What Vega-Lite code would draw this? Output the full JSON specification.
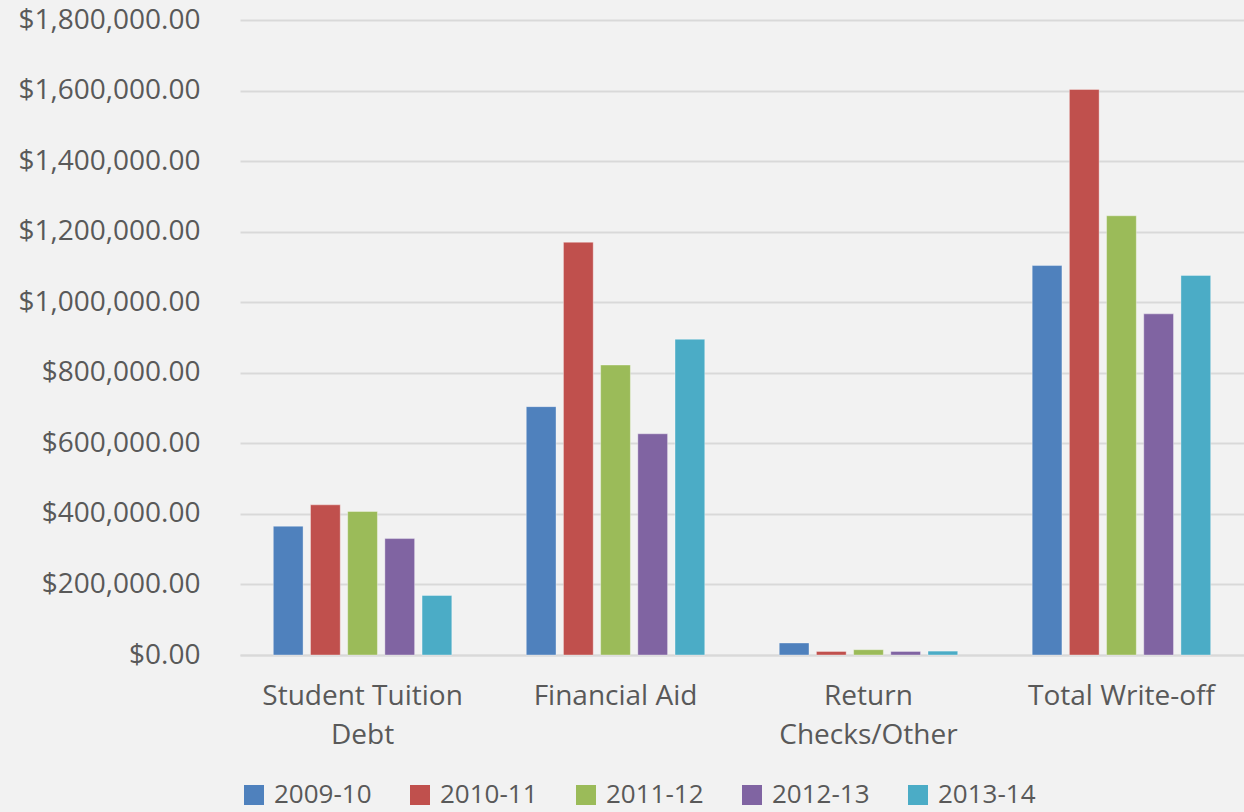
{
  "$schema": "https://vega.github.io/schema/vega-lite/v6.json",
  "autosize": "none",
  "width": 1004,
  "height": 635,
  "padding": {"left": 240, "top": 20, "right": 0, "bottom": 157},
  "background": "#f2f2f2",
  "data": {
    "values": [
      {"category": "Student Tuition Debt", "year": "2009-10", "amount": 365000},
      {"category": "Student Tuition Debt", "year": "2010-11", "amount": 425600},
      {"category": "Student Tuition Debt", "year": "2011-12", "amount": 406800},
      {"category": "Student Tuition Debt", "year": "2012-13", "amount": 330000},
      {"category": "Student Tuition Debt", "year": "2013-14", "amount": 168700},
      {"category": "Financial Aid", "year": "2009-10", "amount": 704000},
      {"category": "Financial Aid", "year": "2010-11", "amount": 1170000},
      {"category": "Financial Aid", "year": "2011-12", "amount": 822000},
      {"category": "Financial Aid", "year": "2012-13", "amount": 627000},
      {"category": "Financial Aid", "year": "2013-14", "amount": 895000},
      {"category": "Return Checks/Other", "year": "2009-10", "amount": 34000},
      {"category": "Return Checks/Other", "year": "2010-11", "amount": 10000},
      {"category": "Return Checks/Other", "year": "2011-12", "amount": 15000},
      {"category": "Return Checks/Other", "year": "2012-13", "amount": 10000},
      {"category": "Return Checks/Other", "year": "2013-14", "amount": 11000},
      {"category": "Total Write-off", "year": "2009-10", "amount": 1104000},
      {"category": "Total Write-off", "year": "2010-11", "amount": 1603000},
      {"category": "Total Write-off", "year": "2011-12", "amount": 1245000},
      {"category": "Total Write-off", "year": "2012-13", "amount": 967000},
      {"category": "Total Write-off", "year": "2013-14", "amount": 1076000}
    ]
  },
  "mark": {"type": "bar", "stroke": "#ffffff", "strokeOpacity": 0.35, "strokeWidth": 1},
  "encoding": {
    "x": {
      "field": "category",
      "type": "nominal",
      "sort": ["Student Tuition Debt", "Financial Aid", "Return Checks/Other", "Total Write-off"],
      "scale": {"paddingInner": 0.265, "paddingOuter": 0.117},
      "axis": {
        "title": null,
        "labelAngle": 0,
        "labelFont": "Open Sans",
        "labelFontSize": 28,
        "labelColor": "#595959",
        "labelPadding": 27,
        "labelLineHeight": 39,
        "labelBaseline": "top",
        "labelLimit": 0,
        "ticks": false,
        "domain": true,
        "domainColor": "#d9d9d9",
        "domainWidth": 2,
        "labelExpr": "datum.value == 'Student Tuition Debt' ? ['Student Tuition', 'Debt'] : datum.value == 'Return Checks/Other' ? ['Return', 'Checks/Other'] : datum.value"
      }
    },
    "xOffset": {
      "field": "year",
      "type": "nominal",
      "scale": {"paddingInner": 0.2, "paddingOuter": 0.1}
    },
    "y": {
      "field": "amount",
      "type": "quantitative",
      "scale": {"domain": [0, 1800000], "nice": false},
      "axis": {
        "title": null,
        "values": [0, 200000, 400000, 600000, 800000, 1000000, 1200000, 1400000, 1600000, 1800000],
        "format": "$,.2f",
        "labelFont": "Open Sans",
        "labelFontSize": 28,
        "labelColor": "#595959",
        "labelPadding": 40,
        "labelLimit": 0,
        "ticks": false,
        "domain": false,
        "grid": true,
        "gridColor": "#d9d9d9",
        "gridWidth": 2
      }
    },
    "color": {
      "field": "year",
      "type": "nominal",
      "scale": {
        "domain": ["2009-10", "2010-11", "2011-12", "2012-13", "2013-14"],
        "range": ["#4F81BD", "#C0504D", "#9BBB59", "#8064A2", "#4BACC6"]
      },
      "legend": {
        "title": null,
        "orient": "none",
        "direction": "horizontal",
        "legendX": 1,
        "legendY": 762,
        "symbolType": "square",
        "symbolSize": 400,
        "symbolStrokeWidth": 0,
        "labelFont": "Open Sans",
        "labelFontSize": 26,
        "labelColor": "#595959",
        "labelOffset": 7,
        "columnPadding": 35
      }
    }
  },
  "config": {"view": {"stroke": null}}
}
